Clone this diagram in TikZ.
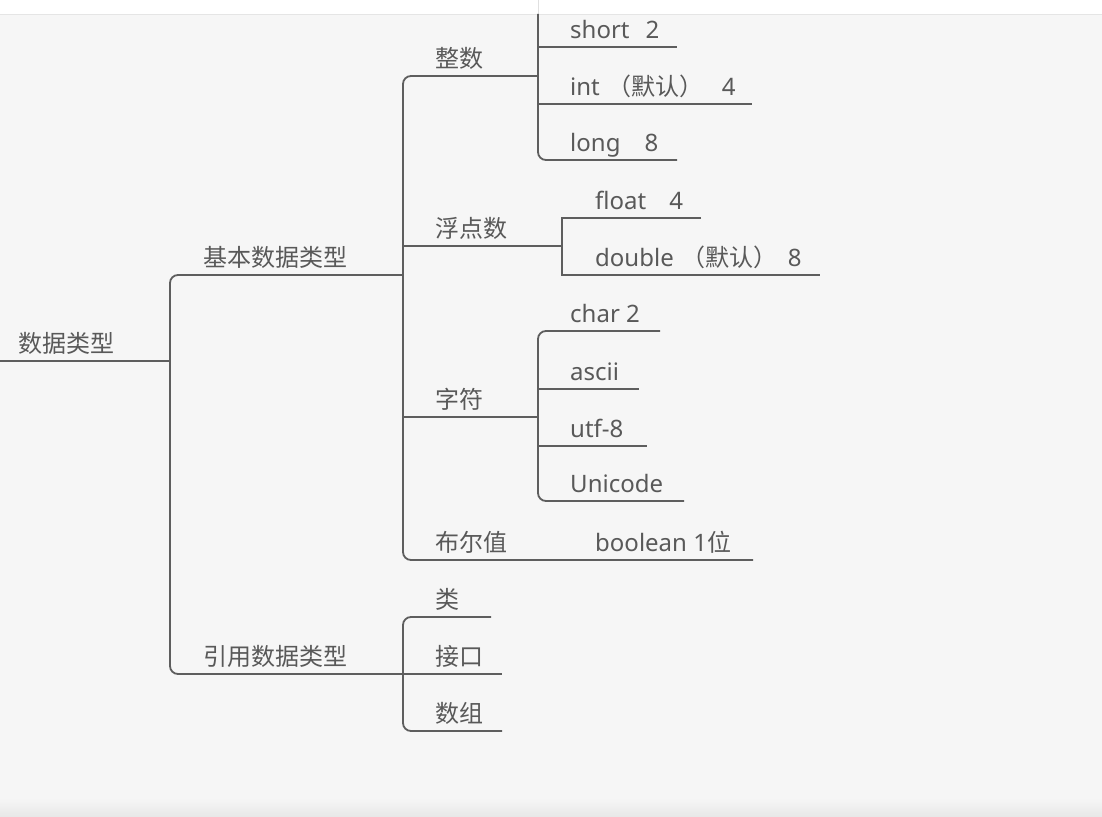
\documentclass[tikz,border=0pt]{standalone}
\usepackage{fontspec}
\setmainfont{Noto Sans}
\newfontfamily\cjk{Noto Sans CJK SC}
\definecolor{bgc}{HTML}{F6F6F6}
\definecolor{linec}{HTML}{5E5E5E}
\definecolor{txtc}{HTML}{595959}
\tikzset{
  lbl/.style={anchor=base west, inner sep=0pt, text=txtc, font=\fontsize{24}{28}\selectfont},
  br/.style={draw=linec, line width=1.8pt, rounded corners=8pt},
  sq/.style={draw=linec, line width=1.8pt},
}
\begin{document}
\begin{tikzpicture}[x=1pt,y=-1pt]
\useasboundingbox (0,0) rectangle (1102,816);
\fill[bgc] (0,0) rectangle (1102,816);
\fill[white] (0,0) rectangle (1102,14);
\draw[black!10, line width=1pt] (0,14.5) -- (1102,14.5);
\draw[black!12, line width=1pt] (538,0) -- (538,14);
\shade[top color=bgc, bottom color=black!9] (0,798) rectangle (1102,816);

% junction coordinates
\coordinate (r0) at (0,361);
\coordinate (r1) at (170,361);
\coordinate (a0) at (403,275);
\coordinate (a1) at (170,275);
\coordinate (a2) at (170,674);
\coordinate (b2) at (403,674);
\coordinate (z0) at (538,76);
\coordinate (z1) at (403,76);
\coordinate (z2) at (403,560);
\coordinate (z3) at (753,560);
\coordinate (s0) at (538,14);
\coordinate (s1) at (538,160);
\coordinate (s2) at (677,160);
\coordinate (sh0) at (538,47);
\coordinate (sh1) at (677,47);
\coordinate (in0) at (538,104);
\coordinate (in1) at (752,104);
\coordinate (f0) at (403,246);
\coordinate (f1) at (562,246);
\coordinate (fa) at (701,218);
\coordinate (fb) at (562,218);
\coordinate (fc) at (562,275);
\coordinate (fd) at (820,275);
\coordinate (c0) at (403,417);
\coordinate (c1) at (538,417);
\coordinate (ca) at (660,331);
\coordinate (cb) at (538,331);
\coordinate (cc) at (538,501);
\coordinate (cd) at (684,501);
\coordinate (as0) at (538,389);
\coordinate (as1) at (639,389);
\coordinate (ut0) at (538,446);
\coordinate (ut1) at (647,446);
\coordinate (ya) at (491,617);
\coordinate (yb) at (403,617);
\coordinate (yc) at (403,731);
\coordinate (yd) at (502,731);
\coordinate (jk) at (502,674);

% connectors
\draw[sq] (r0) -- (r1);
\draw[br] (a0) -- (a1) -- (a2) -- (b2);
\draw[br] (z0) -- (z1) -- (z2) -- (z3);
\draw[br] (s0) -- (s1) -- (s2);
\draw[sq] (sh0) -- (sh1);
\draw[sq] (in0) -- (in1);
\draw[sq] (f0) -- (f1);
\draw[sq] (fa) -- (fb) -- (fc) -- (fd);
\draw[sq] (c0) -- (c1);
\draw[br] (ca) -- (cb) -- (cc) -- (cd);
\draw[sq] (as0) -- (as1);
\draw[sq] (ut0) -- (ut1);
\draw[br] (ya) -- (yb) -- (yc) -- (yd);
\draw[sq] (b2) -- (jk);

% labels
\node[lbl] (root) at (18,352) {\cjk 数据类型};
\node[lbl] (basic) at (203,266) {\cjk 基本数据类型};
\node[lbl] (ref) at (203,665) {\cjk 引用数据类型};
\node[lbl] (zs) at (435,67) {\cjk 整数};
\node[lbl] (fds) at (435,237) {\cjk 浮点数};
\node[lbl] (zf) at (435,408) {\cjk 字符};
\node[lbl] (bez) at (435,551) {\cjk 布尔值};
\node[lbl] (bool) at (595,551) {boolean 1{\cjk 位}};
\node[lbl] (lei) at (435,608) {\cjk 类};
\node[lbl] (jiek) at (435,665) {\cjk 接口};
\node[lbl] (shz) at (435,722) {\cjk 数组};
\node[lbl] (short) at (570,38) {short\hspace{16pt}2};
\node[lbl] (int) at (570,95) {int\hspace{8pt}{\cjk （默认）}\hspace{18pt}4};
\node[lbl] (long) at (570,151) {long\hspace{24pt}8};
\node[lbl] (float) at (595,209) {float\hspace{23pt}4};
\node[lbl] (double) at (595,266) {double\hspace{8pt}{\cjk （默认）}\hspace{10pt}8};
\node[lbl] (char) at (570,322) {char 2};
\node[lbl] (ascii) at (570,380) {ascii};
\node[lbl] (utf) at (570,437) {utf-8};
\node[lbl] (uni) at (570,492) {Unicode};
\end{tikzpicture}
\end{document}
